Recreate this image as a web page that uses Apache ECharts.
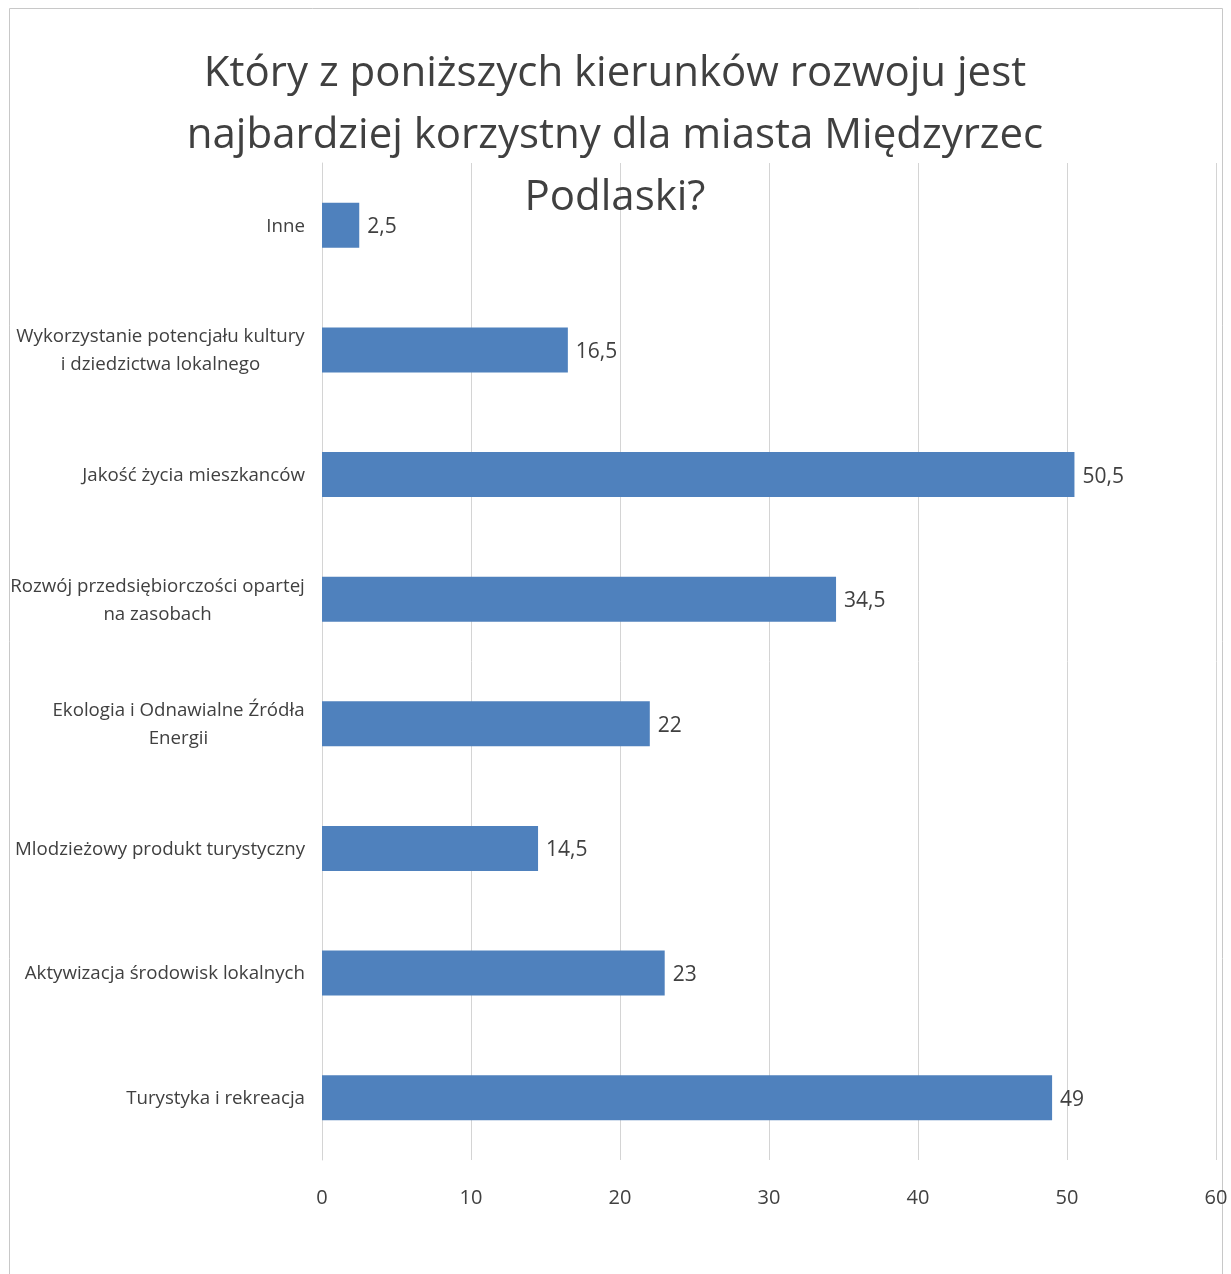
<!DOCTYPE html>
<html>
<head>
<meta charset="utf-8">
<script src="https://cdn.jsdelivr.net/npm/echarts@6/dist/echarts.min.js"></script>
<style>
html,body{margin:0;padding:0;background:#fff;}
#chart{width:1231px;height:1274px;}
</style>
</head>
<body>
<div id="chart"></div>
<script>
var titleText = 'Który z poniższych kierunków rozwoju jest\nnajbardziej korzystny dla miasta Międzyrzec\nPodlaski?';
var categories = [
  'Inne',
  'Wykorzystanie potencjału kultury\ni dziedzictwa lokalnego',
  'Jakość życia mieszkanców',
  'Rozwój przedsiębiorczości opartej\nna zasobach',
  'Ekologia i Odnawialne Źródła\nEnergii',
  'Mlodzieżowy produkt turystyczny',
  'Aktywizacja środowisk lokalnych',
  'Turystyka i rekreacja'
];
var values = [2.5, 16.5, 50.5, 34.5, 22, 14.5, 23, 49];
var xMin = 0, xMax = 60, xInterval = 10;

var FONT = '"Open Sans", "Noto Sans", sans-serif';
var catSize = 18.7;
var canvas = document.createElement('canvas');
var ctx = canvas.getContext('2d');
ctx.font = catSize + 'px ' + FONT;
function lineW(s){ return Math.ceil(ctx.measureText(s).width); }

var rich = {};
var catFormat = {};
categories.forEach(function(c, i){
  var lines = c.split('\n');
  if (lines.length > 1) {
    var w = Math.max.apply(null, lines.map(lineW));
    var key = 'l' + i;
    rich[key] = {width: w, align: 'center', fontSize: catSize, fontFamily: FONT, color: '#404040', lineHeight: 28};
    catFormat[c] = lines.map(function(l){ return '{' + key + '|' + l + '}'; }).join('\n');
  } else {
    catFormat[c] = c;
  }
});

var chart = echarts.init(document.getElementById('chart'));
chart.setOption({
  backgroundColor: '#fff',
  animation: false,
  title: {
    text: titleText,
    left: 615,
    top: 43,
    padding: 0,
    textAlign: 'center',
    textStyle: {fontFamily: FONT, fontSize: 42, fontWeight: 'normal', color: '#404040', lineHeight: 62}
  },
  graphic: [{
    type: 'rect', silent: true, z: -1,
    shape: {x: 9.5, y: 8.5, width: 1213, height: 1300},
    style: {fill: 'none', stroke: '#c8c8c8', lineWidth: 1}
  }],
  grid: {left: 322, right: 15, top: 163, bottom: 114, containLabel: false},
  xAxis: {
    type: 'value', min: xMin, max: xMax, interval: xInterval,
    axisLine: {show: false}, axisTick: {show: false},
    splitLine: {lineStyle: {color: '#d4d4d4', width: 1}},
    axisLabel: {fontFamily: FONT, fontSize: 20, color: '#404040', margin: 28}
  },
  yAxis: {
    type: 'category', inverse: true, data: categories,
    axisLine: {show: true, lineStyle: {color: '#d4d4d4', width: 1}},
    axisTick: {show: false},
    axisLabel: {
      fontFamily: FONT, fontSize: catSize, color: '#404040', margin: 17, lineHeight: 28,
      padding: [2, 0, 0, 0],
      formatter: function(v){ return catFormat[v]; },
      rich: rich
    }
  },
  series: [{
    type: 'bar', data: values, barWidth: 45,
    itemStyle: {color: '#4F81BD'},
    label: {
      show: true, position: 'right', distance: 8, offset: [0, 2],
      fontFamily: FONT, fontSize: 21, color: '#404040',
      formatter: function(p){ return String(p.value).replace('.', ','); }
    }
  }]
});
</script>
</body>
</html>
